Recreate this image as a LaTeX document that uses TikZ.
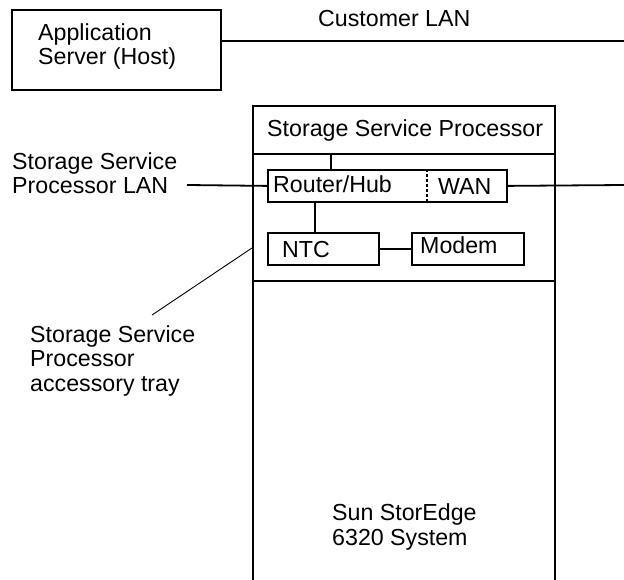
\documentclass[tikz,border=0pt]{standalone}
\usepackage{fontspec}
\setmainfont{Liberation Sans}
\usepackage{tikz}
\usetikzlibrary{
  calc,
  positioning
}
\tikzset{
  unit/.style   = {draw, line width = 1.8pt, inner sep = 0pt, anchor = north west},
  link/.style   = {line width = 1.8pt},
  leader/.style = {line width = 0.9pt},
  txt/.style    = {inner sep = 0pt, anchor = base west, align = left,
                   font = \fontsize{23.2}{24.5}\selectfont}
}

\begin{document}
\begin{tikzpicture}[x=1pt, y=-1pt]
  \useasboundingbox (0, 0) rectangle (624, 580);
  \clip (0, 0) rectangle (624, 580);

  % Host and customer network
  \node [unit, minimum width = 209pt, minimum height = 80pt] (host) at (11, 9) {};
  \node [txt] (hostlbl) at (38, 65) {Application\\Server (Host)};
  \coordinate (lanend) at (624, 41);
  \draw [link] (host.east |- lanend) -- (lanend);
  \node [txt] (lanlbl) at (318, 27) {Customer LAN};

  % Cabinet and service processor
  \node [unit, minimum width = 302pt, minimum height = 520pt] (cabinet) at (252, 105) {};
  \node [txt] (ssplbl) at (267, 137) {Storage Service Processor};
  \node [unit, minimum width = 302pt, minimum height = 127pt] (tray) at (252, 153) {};

  % Units in the tray
  \node [unit, minimum width = 239pt, minimum height = 32pt] (router) at (267, 169) {};
  \draw [line width = 1.4pt, dash pattern = on 3pt off 2pt] (427, 169) -- (427, 201);
  \node [txt] (routerlbl) at (273, 193) {Router/Hub};
  \node [txt] (wanlbl) at (438, 195) {WAN};
  \node [unit, minimum width = 111pt, minimum height = 32pt] (ntc) at (267, 232) {};
  \node [txt] (ntclbl) at (282, 258) {NTC};
  \node [unit, minimum width = 112pt, minimum height = 32pt] (modem) at (411, 232) {};
  \node [txt] (modemlbl) at (420, 254) {Modem};

  % Links
  \draw [link] (tray.north -| 331, 0) -- (router.north -| 331, 0);
  \draw [link] (router.south -| 315, 0) -- (ntc.north -| 315, 0);
  \draw [link] (ntc.east) -- (modem.west);
  \coordinate (sspend) at (187, 185);
  \draw [link] (sspend) -- (router.west);
  \coordinate (wanend) at (624, 185);
  \draw [link] (router.east) -- (wanend);

  % Labels outside the cabinet
  \node [txt] (sspnet) at (12, 194) {Storage Service\\Processor LAN};
  \node [txt] (traylbl) at (30, 391) {Storage Service\\Processor\\accessory tray};
  \coordinate (trayfoot) at (152, 315);
  \draw [leader] (trayfoot) -- (tray.west |- 0, 248);
  \node [txt] (syslbl) at (332, 545) {Sun StorEdge\\6320 System};
\end{tikzpicture}
\end{document}
